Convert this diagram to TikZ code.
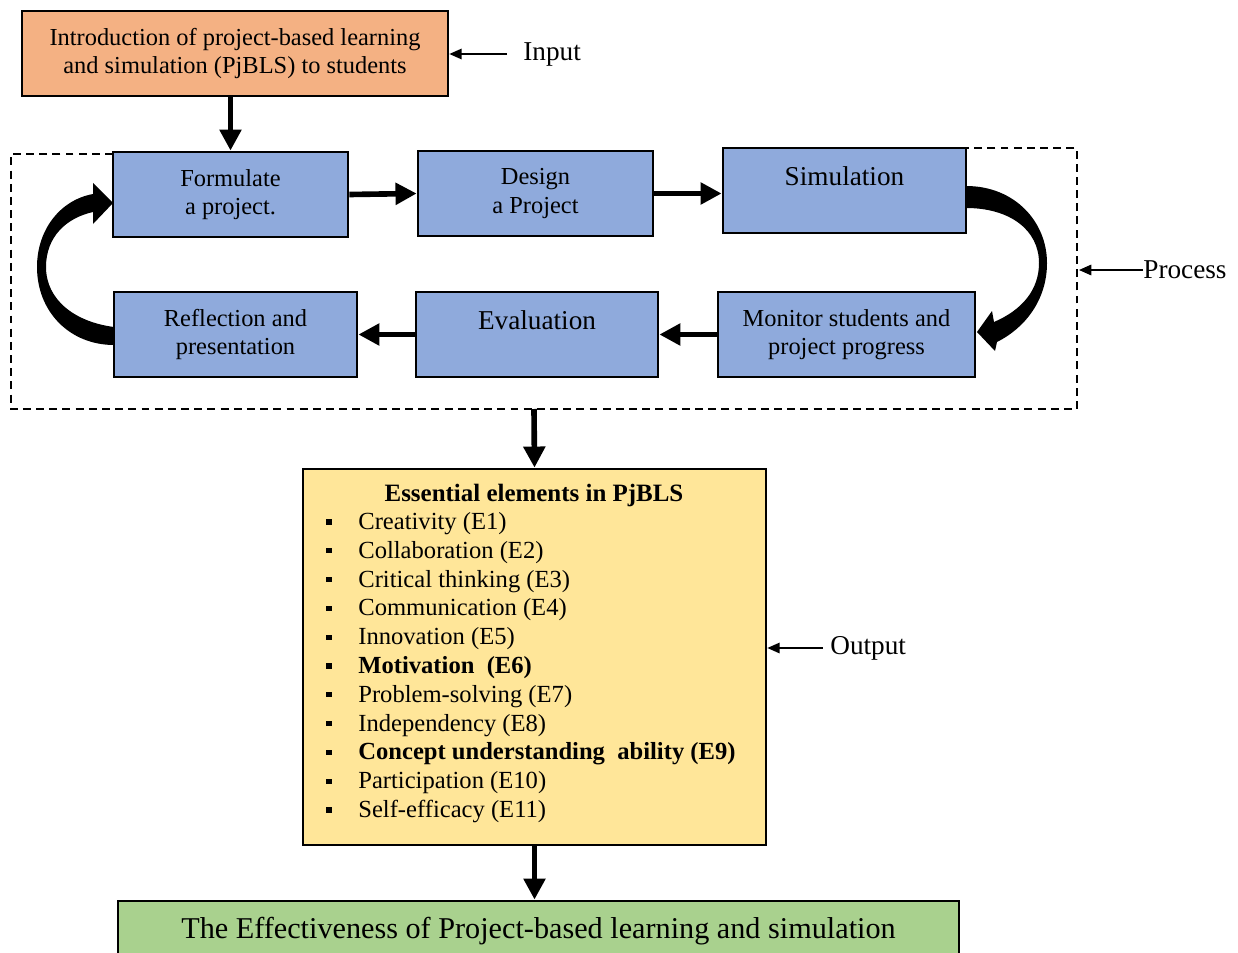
\documentclass[tikz,border=0pt]{standalone}
\usepackage{fontspec}
\setmainfont{Liberation Serif}
\usetikzlibrary{arrows.meta}
\definecolor{boxblue}{HTML}{8FAADC}
\definecolor{boxorange}{HTML}{F4B183}
\definecolor{boxyellow}{HTML}{FFE699}
\definecolor{boxgreen}{HTML}{A9D18E}
\begin{document}
\begin{tikzpicture}[x=0.02cm,y=-0.02cm,
  box/.style={draw, line width=1.6pt, fill=boxblue, inner sep=0pt, align=center,
    minimum height=1.7cm, font=\fontsize{13.9}{16}\selectfont},
  bigtext/.style={font=\fontsize{15.5}{16}\selectfont},
  thick arrow/.style={line width=3.2pt, -{Triangle[length=12pt,width=12pt]}},
  thin arrow/.style={line width=0.8pt, -{Triangle[length=7pt,width=6pt]}},
  label/.style={inner sep=0pt, font=\fontsize{15.5}{17}\selectfont},
  bul/.style={fill=black, inner sep=0pt, minimum size=3pt},
  item/.style={inner sep=0pt, anchor=base west, font=\fontsize{14}{15}\selectfont}]
\useasboundingbox (0,0) rectangle (1238,953);

% dashed process frame
\draw[line width=1.1pt, dash pattern=on 4.5pt off 3pt]
  (113,154) -- (11,154) -- (11,409) -- (1077,409) -- (1077,148) -- (966,148);
\coordinate (procbot) at (534,409);
\coordinate (procright) at (1079,270);

% boxes
\node[box, fill=boxorange, minimum width=8.52cm] (intro) at (235,53.5)
  {Introduction of project-based learning\\and simulation (PjBLS) to students};
\node[box, minimum width=4.7cm] (form) at (230.5,194.5) {Formulate\\a project.};
\node[box, minimum width=4.7cm] (design) at (535.5,193.5) {Design\\a Project};
\node[box, minimum width=4.86cm, bigtext] (sim) at (844.5,190.5) {Simulation\\\mbox{}};
\node[box, minimum width=4.86cm] (refl) at (235.5,334.5) {Reflection and\\presentation};
\node[box, minimum width=4.84cm, bigtext] (eval) at (537,334.5) {Evaluation\\\mbox{}};
\node[box, minimum width=5.14cm] (mon) at (846.5,334.5) {Monitor students and\\project progress};

\node[box, fill=boxyellow, minimum width=9.26cm, minimum height=7.52cm] (yel) at (534.5,657) {};
\node[box, fill=boxgreen, minimum width=16.82cm, minimum height=1.2cm, font=\fontsize{17.2}{18}\selectfont] (green) at (538.5,931)
  {The Effectiveness of Project-based learning and simulation};

% list in yellow box
\node[inner sep=0pt, font=\fontsize{14.2}{15}\bfseries\selectfont] (head) at (534,495) {Essential elements in PjBLS};
\foreach \t [count=\i] in {Creativity (E1), Collaboration (E2), Critical thinking (E3),
  Communication (E4), Innovation (E5), {\textbf{Motivation\ \ (E6)}}, Problem-solving (E7),
  Independency (E8), {\textbf{Concept understanding\ \ ability\ (E9)}}, Participation (E10),
  Self-efficacy (E11)}{
  \node[bul] (b\i) at (329,{522+(\i-1)*28.8}) {};
  \node[item] (t\i) at (358,{529.5+(\i-1)*28.8}) {\t};
}

% straight arrows
\draw[thick arrow] (intro.south -| form.north) -- (form.north);
\draw[thick arrow] (form.east) -- (design.west);
\draw[thick arrow] (design.east) -- (design.east -| sim.west);
\draw[thick arrow] (mon.west) -- (eval.east);
\draw[thick arrow] (eval.west) -- (refl.east);
\draw[thick arrow] (procbot) -- (yel.north);
\draw[thick arrow] (yel.south) -- (yel.south |- green.north);

% curved arrows
\fill (114,327) .. controls (75,322) and (46,300) .. (46,267)
  .. controls (46,237) and (66,218) .. (93,212)
  -- (93,224) -- (113,203) -- (93,183) -- (93,194)
  .. controls (60,200) and (37,230) .. (37,267)
  .. controls (37,312) and (70,345) .. (114,345) -- cycle;
\fill (966,186) .. controls (1015,186) and (1047,222) .. (1047,263)
  .. controls (1047,300) and (1025,328) .. (997,342)
  -- (995,351) -- (977,332) -- (992,311) -- (994,322)
  .. controls (1022,310) and (1039,290) .. (1039,263)
  .. controls (1039,230) and (1010,208) .. (966,208) -- cycle;

% side labels
\node[label, anchor=west] (inp) at (523,54) {Input};
\node[label, anchor=west] (proc) at (1143,270) {Process};
\node[label, anchor=west] (out) at (830,648) {Output};
\draw[thin arrow, shorten <=9pt] (inp.west) -- (inp.west -| intro.east);
\draw[thin arrow] (proc.west) -- (procright);
\draw[thin arrow, shorten <=4pt] (out.west) -- (out.west -| yel.east);
\end{tikzpicture}
\end{document}
